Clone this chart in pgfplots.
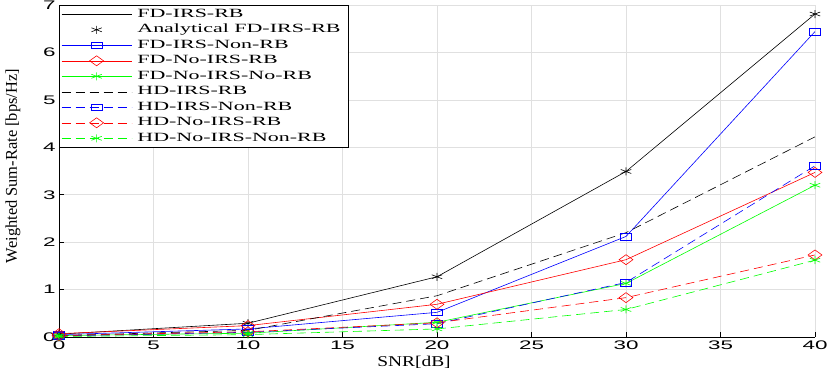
\documentclass[border=0pt]{standalone}
\usepackage{fontspec}
\setmainfont{Liberation Serif}
\newfontfamily\legfont{Liberation Serif}[FakeStretch=1.75]
\newfontfamily\tickfont{Liberation Sans}[FakeStretch=1.8]
\newfontfamily\xlabfont{Liberation Serif}[FakeStretch=1.3]
\usepackage{pgfplots}
\pgfplotsset{compat=1.18}
\definecolor{mblue}{rgb}{0,0,1}
\definecolor{mred}{rgb}{1,0,0}
\definecolor{mgreen}{rgb}{0,1,0}
\begin{document}
\begin{tikzpicture}
\begin{axis}[
  at={(0,0)}, anchor=south west,
  scale only axis, width=756bp, height=332bp,
  xmin=0, xmax=40, ymin=0, ymax=7,
  xtick={0,5,...,40}, ytick={0,1,...,7},
  axis x line*=bottom, axis y line*=left,
  tick align=inside, major tick length=5bp,
  grid=major, grid style={black!12, line width=0.7bp},
  axis line style={black, line width=0.6bp},
  tick style={black, line width=0.6bp},
  /pgf/number format/assume math mode=true,
  ticklabel style={font=\tickfont\fontsize{12.5}{12.5}\selectfont},
  xlabel={\xlabfont SNR[dB]},
  xlabel style={font=\fontsize{15}{15}\selectfont, xshift=-23bp},
  ylabel={Weighted Sum-Rate [bps/Hz]},
  ylabel style={font=\fontsize{16.5}{16.5}\selectfont, at={(axis description cs:-0.061,0.515)}, anchor=center},
  every axis plot/.append style={line width=0.6bp},
  legend cell align=left,
  legend image code/.code={\draw[mark repeat=2,mark phase=2,#1] plot coordinates {(0bp,0bp) (35bp,0bp) (70bp,0bp)};},
  legend style={at={(0,1)}, anchor=north west, draw=black, line width=0.6bp, fill=white,
    font=\legfont\fontsize{12.6}{12.6}\selectfont,
    nodes={inner ysep=1bp, inner xsep=5.5bp, text height=9bp, text depth=3bp},
    row sep=1.5bp, inner xsep=2bp, inner ysep=2bp},
]
\addplot[black, solid] coordinates {(0,0.06)(10,0.29)(20,1.27)(30,3.49)(40,6.81)};
\addlegendentry{FD-IRS-RB}
\addplot[black, only marks, mark=asterisk, mark size=4bp, mark options={xscale=1.5}] coordinates {(0,0.06)(10,0.29)(20,1.27)(30,3.49)(40,6.81)};
\addlegendentry{Analytical FD-IRS-RB}
\addplot[mblue, solid, mark=square, mark size=3.4bp, mark options={xscale=1.7}] coordinates {(0,0.05)(10,0.17)(20,0.52)(30,2.12)(40,6.44)};
\addlegendentry{FD-IRS-Non-RB}
\addplot[mred, solid, mark=diamond, mark size=5bp, mark options={xscale=1.85}] coordinates {(0,0.07)(10,0.24)(20,0.69)(30,1.63)(40,3.47)};
\addlegendentry{FD-No-IRS-RB}
\addplot[mgreen, solid, mark=asterisk, mark size=4bp, mark options={xscale=1.5}] coordinates {(0,0.03)(10,0.08)(20,0.31)(30,1.13)(40,3.2)};
\addlegendentry{FD-No-IRS-No-RB}
\addplot[black, dash pattern=on 9bp off 5bp] coordinates {(0,0.03)(10,0.14)(20,0.87)(30,2.2)(40,4.22)};
\addlegendentry{HD-IRS-RB}
\addplot[mblue, dash pattern=on 9bp off 5bp, mark=square, mark size=3.4bp, mark options={xscale=1.7, solid}] coordinates {(0,0.02)(10,0.1)(20,0.28)(30,1.15)(40,3.61)};
\addlegendentry{HD-IRS-Non-RB}
\addplot[mred, dash pattern=on 9bp off 5bp, mark=diamond, mark size=5bp, mark options={xscale=1.85, solid}] coordinates {(0,0.03)(10,0.11)(20,0.3)(30,0.83)(40,1.73)};
\addlegendentry{HD-No-IRS-RB}
\addplot[mgreen, dash pattern=on 9bp off 5bp, mark=asterisk, mark size=4bp, mark options={xscale=1.5, solid}] coordinates {(0,0.01)(10,0.05)(20,0.17)(30,0.58)(40,1.62)};
\addlegendentry{HD-No-IRS-Non-RB}
\end{axis}
\pgfresetboundingbox
\useasboundingbox (-59bp,-45bp) rectangle (772bp,337bp);
\end{tikzpicture}
\end{document}
